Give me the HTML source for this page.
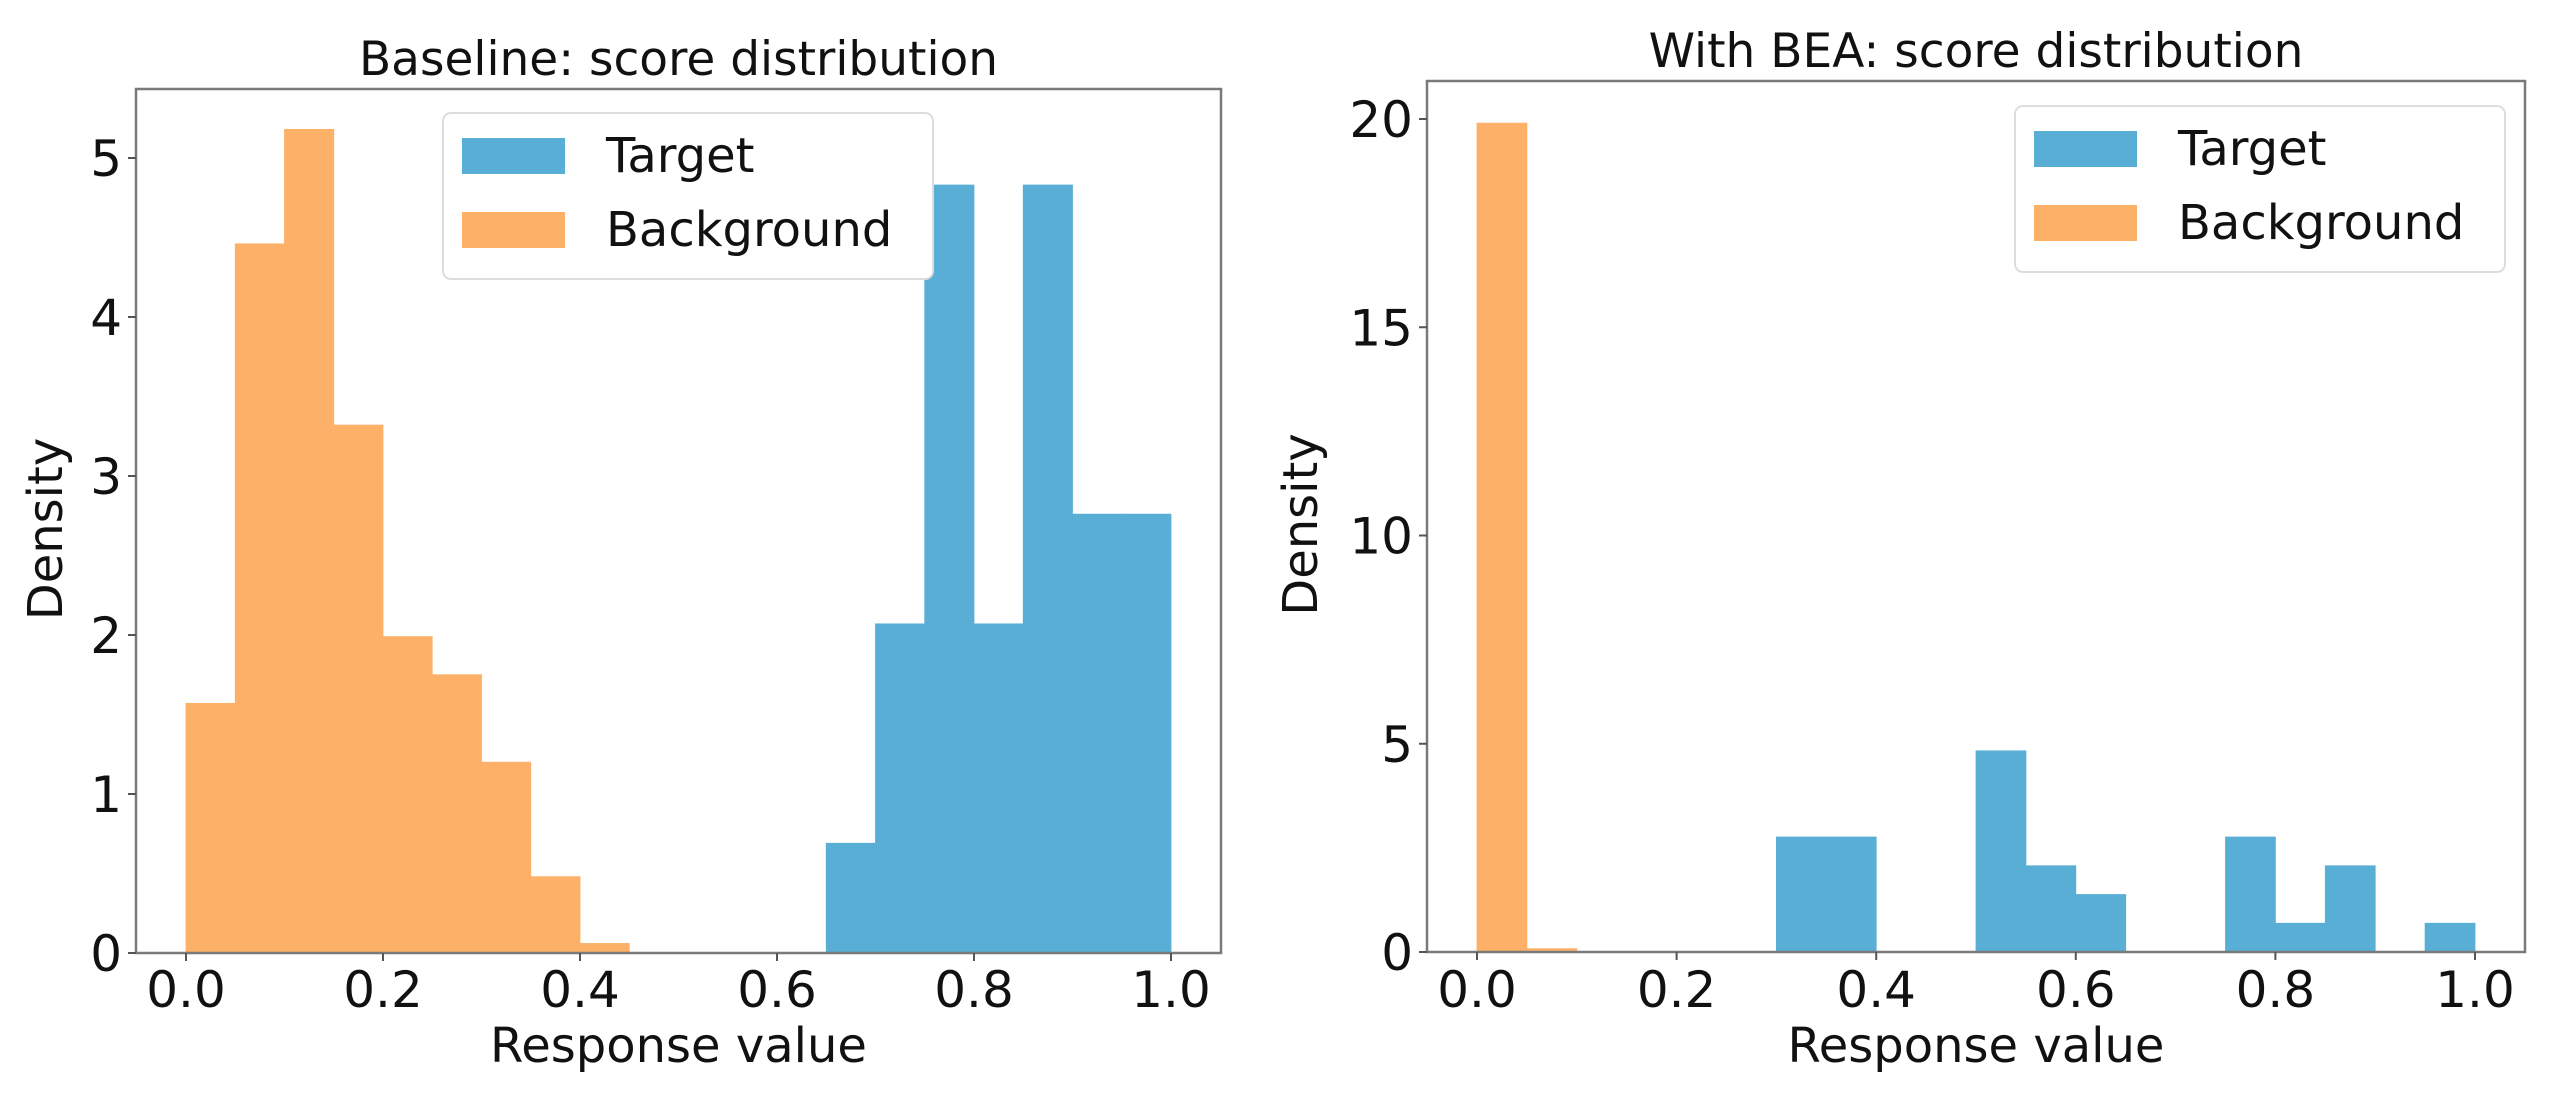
<!DOCTYPE html>
<html><head><meta charset="utf-8"><style>
html,body{margin:0;padding:0;background:#fff;}
svg{display:block;font-family:"DejaVu Sans","Liberation Sans",sans-serif;}
</style></head><body>
<svg id="fig" width="2564" height="1098" viewBox="0 0 2564 1098" xmlns="http://www.w3.org/2000/svg"></svg>
<script>
const binWidth = 0.05;
const leftBgStart = 0.0;
const leftBgValues = [1.57, 4.46, 5.18, 3.32, 1.99, 1.75, 1.2, 0.48, 0.06];
const leftTgStart = 0.65;
const leftTgValues = [0.69, 2.07, 4.83, 2.07, 4.83, 2.76, 2.76];
const rightBgStart = 0.0;
const rightBgValues = [19.9, 0.08];
const rightTgStart = 0.3;
const rightTgValues = [2.76, 2.76, 0, 0, 4.83, 2.07, 1.38, 0, 0, 2.76, 0.69, 2.07, 0, 0.69];
const xTicks = [0, 0.2, 0.4, 0.6, 0.8, 1.0];
const xTickLabels = ["0.0", "0.2", "0.4", "0.6", "0.8", "1.0"];
const leftYTicks = [0, 1, 2, 3, 4, 5];
const rightYTicks = [0, 5, 10, 15, 20];
const legendLabels = ["Target", "Background"];

const NS = "http://www.w3.org/2000/svg";
const svg = document.getElementById("fig");
const BLUE = "#58aed5", ORANGE = "#fdb068";
function mk(tag, attrs, parent){const e=document.createElementNS(NS,tag);for(const k in attrs)e.setAttribute(k,attrs[k]);(parent||svg).appendChild(e);return e;}

function panel(cfg){
  const g = mk("g",{});
  
  
  const xs = v => cfg.x0 + v*cfg.xPer;
  const ys = v => cfg.y0 - v*cfg.yPer;
  function hist(start, vals, color, nm){
    vals.forEach((v,i)=>{
      if(v<=0) return;
      const xa = xs(start+i*binWidth), xb = xs(start+(i+1)*binWidth);
      const r = mk("rect",{x:xa,y:ys(v),width:xb-xa,height:ys(0)-ys(v),fill:color,stroke:color,"stroke-width":0.8},g);
      
      
    });
  }
  hist(cfg.bgStart, cfg.bg, ORANGE, 'background');
  hist(cfg.tgStart, cfg.tg, BLUE, 'target');
  const fr = mk("rect",{x:cfg.L,y:cfg.T,width:cfg.R-cfg.L,height:cfg.y0-cfg.T,fill:"none",stroke:"#7a7a7a","stroke-width":2.5},g);
  
  
  xTicks.forEach((t,i)=>{
    const x = xs(t);
    mk("line",{x1:x,x2:x,y1:cfg.y0,y2:cfg.y0+8,stroke:"#555","stroke-width":2},g);
    const tx = mk("text",{x:x,y:1007,"text-anchor":"middle","font-size":50,fill:"#111"},g);
    tx.textContent = xTickLabels[i];
    
    
  });
  cfg.yTicks.forEach(t=>{
    const y = ys(t);
    mk("line",{x1:cfg.L-8,x2:cfg.L,y1:y,y2:y,stroke:"#555","stroke-width":2},g);
    const tx = mk("text",{x:cfg.L-14,y:y+18,"text-anchor":"end","font-size":50,fill:"#111"},g);
    tx.textContent = String(t);
    
    
  });
  const ti = mk("text",{x:(cfg.L+cfg.R)/2,y:cfg.T-14,"text-anchor":"middle","font-size":47,fill:"#111"},g);
  ti.textContent = cfg.title;
  
  
  const xl = mk("text",{x:(cfg.L+cfg.R)/2,y:1062,"text-anchor":"middle","font-size":48,fill:"#111"},g);
  xl.textContent = "Response value";
  
  
  const yl = mk("text",{x:0,y:0,"text-anchor":"middle","font-size":48,fill:"#111",transform:`translate(${cfg.ylx},${(cfg.T+cfg.y0)/2+8}) rotate(-90)`},g);
  yl.textContent = "Density";
  
  
  const lg = mk("g",{},g);
  
  
  mk("rect",{x:cfg.lgX,y:cfg.lgY,width:490,height:166,rx:8,fill:"#fff",stroke:"#ddd","stroke-width":2},lg);
  [BLUE, ORANGE].forEach((c,i)=>{
    const yy = cfg.lgY + 25 + i*74;
    const p = mk("rect",{x:cfg.lgX+19,y:yy,width:103,height:36,fill:c},lg);
    
    
    const t = mk("text",{x:cfg.lgX+163,y:yy+34,"font-size":48,fill:"#111"},lg);
    t.textContent = legendLabels[i];
    
    
  });
}

panel({name:"baseline-panel",title:"Baseline: score distribution",L:136,R:1221,T:89,x0:186,xPer:985,y0:953,yPer:159,
  bgStart:leftBgStart,bg:leftBgValues,tgStart:leftTgStart,tg:leftTgValues,yTicks:leftYTicks,ylx:62,lgX:443,lgY:113});
panel({name:"bea-panel",title:"With BEA: score distribution",L:1427,R:2525,T:81,x0:1477,xPer:998,y0:952,yPer:41.65,
  bgStart:rightBgStart,bg:rightBgValues,tgStart:rightTgStart,tg:rightTgValues,yTicks:rightYTicks,ylx:1317,lgX:2015,lgY:106});
</script>
</body></html>
